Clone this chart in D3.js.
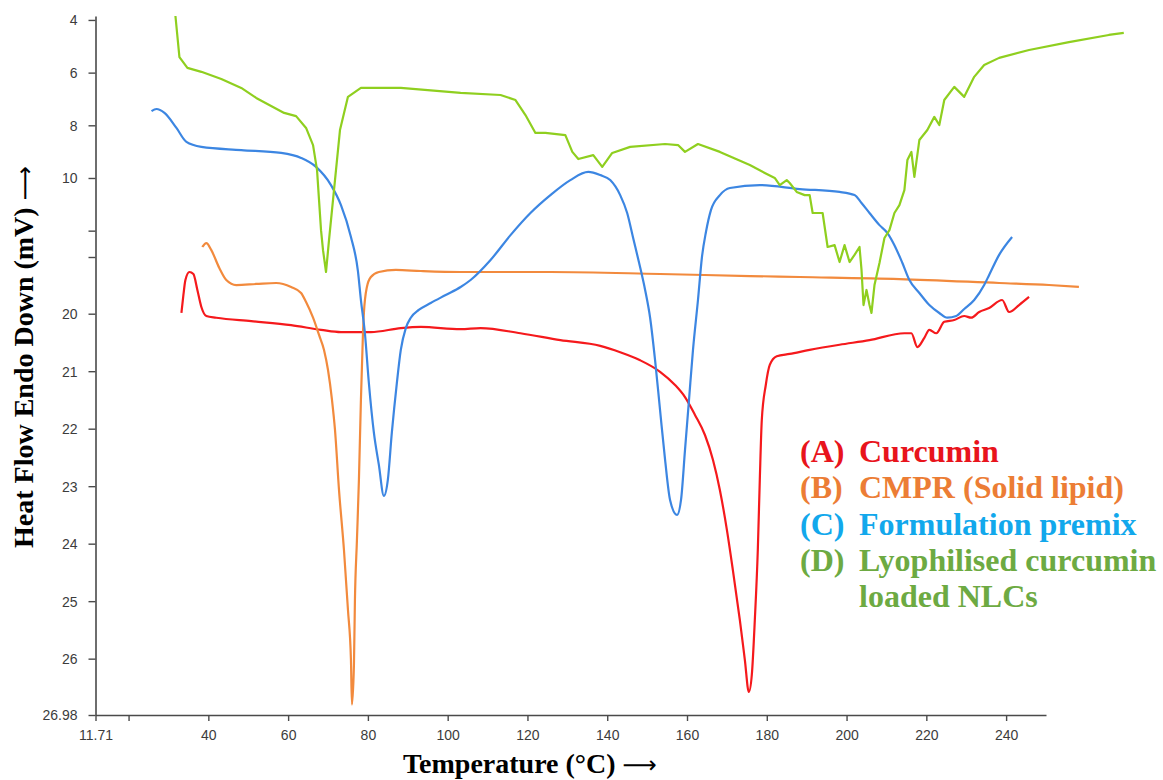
<!DOCTYPE html>
<html>
<head>
<meta charset="utf-8">
<script src="https://cdn.jsdelivr.net/npm/d3@7"></script>
<style>
  body { margin: 0; background: #fff; }
  .tick text { font-family: "Liberation Sans", Arial, sans-serif; font-size: 14px; fill: #3c3c3c; }
  .axis-title { font-family: "Liberation Serif", "Times New Roman", serif; font-weight: bold; font-size: 28px; fill: #000; }
  .axis-title .arrow { font-family: "DejaVu Sans", sans-serif; font-weight: normal; font-size: 24px; }
  .legend text { font-family: "Liberation Serif", "Times New Roman", serif; font-weight: bold; font-size: 32px; }
</style>
</head>
<body>
<svg width="1163" height="780"></svg>
<script>
// temperature (°C), heat flow (mV)
const curcumin = [
  [33.25, 19.91], [33.75, 17.69], [34.25, 15.84], [35.25, 14.85], [36.25, 15.1], [37.25, 17.07],
  [38.25, 19.17], [39.5, 20.04], [42, 20.07], [50.75, 20.13], [60.75, 20.2], [68.25, 20.28],
  [73.25, 20.32], [80.75, 20.32], [88.25, 20.25], [93.25, 20.23], [103.25, 20.27], [108.25, 20.25],
  [118.25, 20.34], [128.25, 20.46], [138.25, 20.56], [143.25, 20.67], [148.25, 20.81], [153.25, 21.01],
  [157, 21.24], [159.5, 21.45], [162, 21.76], [164.5, 22.11], [166.5, 22.54], [168.25, 23.07],
  [170, 23.76], [171.5, 24.46], [173.25, 25.33], [174.5, 26.02], [175.5, 26.58], [176.25, 26.28],
  [177, 25.33], [177.75, 24.11], [178.25, 22.89], [178.75, 21.85], [179.75, 21.24], [180.75, 20.89],
  [182.5, 20.74], [185.75, 20.7], [190.75, 20.63], [198.25, 20.54], [205.75, 20.46], [214.5, 20.34],
  [216.25, 20.34], [217.75, 20.58], [219.5, 20.42], [220.75, 20.28], [222.5, 20.34], [224.5, 20.14],
  [227, 20.11], [229.5, 20.04], [231.25, 20.07], [233.25, 19.79], [235.75, 19.3], [239, 18.31],
  [240.75, 19.79], [243.25, 18.93], [245.75, 17.93]
];

const cmpr = [
  [38.5, 12.62], [39.5, 12.47], [40.75, 12.74], [42.75, 14.36], [44.5, 15.84], [47, 16.46],
  [52, 16.33], [57, 16.21], [60.75, 16.7], [63.25, 17.44], [64.5, 18.56], [66.25, 20.07],
  [67.75, 20.37], [69, 20.63], [70, 20.98], [71, 21.5], [71.75, 22.02], [72.75, 23.06],
  [74, 24.11], [75, 25.15], [75.75, 26.02], [76, 26.8], [76.5, 26.11], [76.75, 24.98],
  [77.25, 23.94], [77.75, 22.89], [78.25, 21.5], [78.75, 20.37], [79, 19.91], [79.75, 16.7],
  [80.75, 15.47], [82.75, 14.85], [87, 14.6], [93.25, 14.73], [103.25, 14.85], [125.75, 14.85],
  [153.25, 15.1], [175.75, 15.35], [188.25, 15.47], [213.25, 15.72], [238.25, 16.21], [250.75, 16.46],
  [258.25, 16.7]
];

const premix = [
  [25.75, 7.46], [27, 7.38], [29, 7.53], [32, 8.1], [34.5, 8.63], [38.25, 8.82],
  [48.25, 8.94], [58.25, 9.05], [63.25, 9.24], [67, 9.58], [70.75, 10.27], [73.25, 11.03],
  [75.75, 12.24], [77.5, 14.73], [78.25, 18.31], [79.25, 20.34], [80.25, 21.21], [81.5, 22.07],
  [82.75, 22.63], [84, 23.17], [85, 22.89], [86, 22.07], [87.25, 21.21], [88.25, 20.63],
  [89.5, 20.25], [90.75, 20.07], [92.75, 19.54], [95.75, 18.68], [99.5, 17.69], [103.25, 16.7],
  [105.75, 15.84], [110.75, 13.37], [115.75, 12.17], [120.75, 11.33], [125.75, 10.65], [130.75, 10.08],
  [135.25, 9.77], [138.25, 9.89], [140.75, 10.08], [143.25, 10.65], [145, 11.33], [146.5, 12.28],
  [148, 13.74], [149.5, 17.07], [150.75, 20.07], [152, 20.81], [153.25, 21.68], [154.5, 22.54],
  [155.75, 23.24], [157.5, 23.5], [158.5, 23.24], [159.5, 22.37], [160.5, 21.5], [161.5, 20.63],
  [162.75, 18.31], [163.75, 13.0], [164.75, 12.05], [166, 11.22], [168.25, 10.65], [170.75, 10.38],
  [178.25, 10.27], [188.25, 10.42], [198.25, 10.53], [202, 10.65], [203.75, 10.95], [205.75, 11.33],
  [208.25, 11.79], [210.25, 12.09], [212, 12.55], [214, 13.74], [215.75, 15.84], [218.25, 17.44],
  [220.75, 18.93], [223.25, 19.91], [225.25, 20.07], [227.5, 20.04], [229.5, 19.42], [232, 18.31],
  [234.5, 16.46], [235.75, 15.22], [238.25, 12.92], [241.5, 12.24]
];

const nlcs = [
  [31.75, 3.85], [32.75, 5.41], [34.75, 5.82], [38.25, 5.97], [43.25, 6.24], [48.25, 6.58],
  [52, 6.96], [59, 7.53], [62, 7.65], [64.5, 8.1], [66.25, 8.75], [67.25, 9.7],
  [67.75, 10.84], [68.25, 11.98], [68.75, 12.74], [69.5, 14.85], [70.25, 12.36], [71.5, 10.46],
  [73, 8.18], [75, 6.92], [78.25, 6.58], [88.25, 6.58], [103.25, 6.77], [113.25, 6.85],
  [117, 7.04], [119.5, 7.61], [122, 8.29], [124.5, 8.29], [129.5, 8.37], [131.25, 9.01],
  [132.75, 9.28], [136.5, 9.13], [138.75, 9.58], [141.25, 9.05], [145.75, 8.82], [154.5, 8.71],
  [157.75, 8.75], [159.5, 9.01], [162.75, 8.71], [168.25, 9.01], [175.75, 9.51], [179.5, 9.81],
  [182, 10.0], [183.25, 10.27], [185, 10.08], [185.75, 10.19], [187.5, 10.53], [189.5, 10.65],
  [190.75, 10.65], [191.5, 11.33], [194, 11.33], [195.25, 12.62], [197, 12.55], [198.25, 13.62],
  [199.5, 12.55], [200.75, 13.62], [202, 12.92], [203.25, 12.62], [203.75, 14.6], [204.25, 18.93],
  [205, 17.07], [205.75, 18.93], [206.25, 19.91], [207, 16.46], [208.25, 13.74], [209.5, 12.28],
  [210.75, 11.98], [212, 11.33], [213.25, 11.03], [214.5, 10.46], [215.25, 9.32], [216.25, 9.01],
  [217, 9.96], [218.25, 8.56], [220.25, 8.18], [222, 7.68], [223.25, 7.99], [224.5, 7.04],
  [227, 6.54], [229.5, 6.92], [232, 6.16], [234.5, 5.71], [238.25, 5.44], [245.75, 5.14],
  [255.75, 4.84], [265.75, 4.57], [269.5, 4.49]
];

const xTicks = [11.71, 20, 40, 60, 80, 100, 120, 140, 160, 180, 200, 220, 240];
const xTickLabels = ["11.71", "", "40", "60", "80", "100", "120", "140", "160", "180", "200", "220", "240"];
const yTicks = [4, 6, 8, 10, 12, 13, 20, 21, 22, 23, 24, 25, 26, 26.98];
const yTickLabels = ["4", "6", "8", "10", "", "", "20", "21", "22", "23", "24", "25", "26", "26.98"];

const legendKeys = ["(A)", "(B)", "(C)", "(D)", ""];
const legendNames = ["Curcumin", "CMPR (Solid lipid)", "Formulation premix", "Lyophilised curcumin", "loaded NLCs"];

const series = [
  { data: curcumin, color: "#f5191c", curve: d3.curveMonotoneX },
  { data: cmpr, color: "#f28a3d", curve: d3.curveMonotoneX },
  { data: premix, color: "#3c86e2", curve: d3.curveMonotoneX },
  { data: nlcs, color: "#8fcf1f", curve: d3.curveLinear }
];
const legendColors = ["#e8141c", "#ec7d35", "#12a8ec", "#6daa42", "#6daa42"];

const svg = d3.select("svg");

const x = d3.scaleLinear().domain([11.71, 250]).range([95.5, 1046]);
// the original axis is broken: two differently scaled bands joined at 13..20
const y = d3.scaleLinear().domain([3.85, 13, 20, 26.98]).range([16, 257, 313.7, 715]);

const xAxisG = svg.append("g")
  .attr("transform", "translate(0,715)")
  .call(d3.axisBottom(x).tickValues(xTicks).tickFormat((d, i) => xTickLabels[i])
    .tickSize(6).tickSizeOuter(0).tickPadding(9));

const yAxisG = svg.append("g")
  .attr("transform", "translate(95.5,0)")
  .call(d3.axisLeft(y).tickValues(yTicks).tickFormat((d, i) => yTickLabels[i])
    .tickSize(7).tickSizeOuter(0).tickPadding(11));

[xAxisG, yAxisG].forEach((g) => {
  g.select(".domain").attr("stroke", "#4a4a4a").attr("stroke-width", 1.6);
  g.selectAll(".tick line").attr("stroke", "#4a4a4a").attr("stroke-width", 1.4);
});
yAxisG.selectAll(".tick text").attr("dy", "0.35em");

const line = d3.line().x((d) => x(d[0])).y((d) => y(d[1]));

svg.append("g")
  .selectAll("path")
  .data(series)
  .join("path")
  .attr("fill", "none")
  .attr("stroke", (d) => d.color)
  .attr("stroke-width", 2.2)
  .attr("stroke-linejoin", "round")
  .attr("d", (d) => line.curve(d.curve)(d.data));

const yTitle = svg.append("text")
  .attr("class", "axis-title")
  .attr("transform", "translate(33,548) rotate(-90)")
  .text("Heat Flow Endo Down (mV) ");
yTitle.append("tspan").attr("class", "arrow").text("\u27F6");

const xTitle = svg.append("text")
  .attr("class", "axis-title")
  .attr("x", 403)
  .attr("y", 773)
  .text("Temperature (\u00B0C) ");
xTitle.append("tspan").attr("class", "arrow").text("\u27F6");

const legend = svg.append("g").attr("class", "legend");
const rows = legend.selectAll("g")
  .data(legendNames)
  .join("g")
  .attr("transform", (d, i) => `translate(0,${462 + i * 36.3})`)
  .attr("fill", (d, i) => legendColors[i]);
rows.append("text").attr("x", 800).text((d, i) => legendKeys[i]);
rows.append("text").attr("x", 859).text((d) => d);
</script>
</body>
</html>
